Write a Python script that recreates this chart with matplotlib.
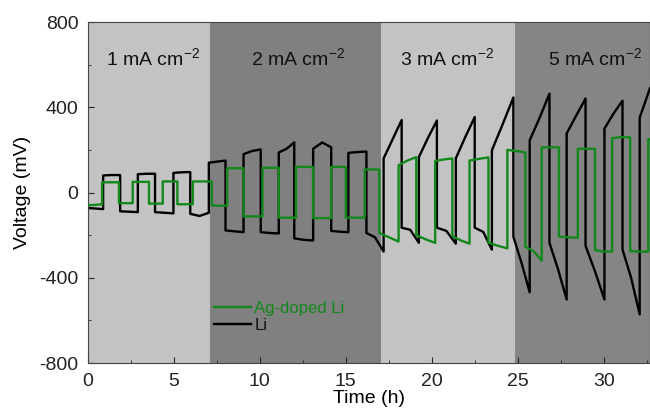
import numpy as np
import matplotlib
matplotlib.use("Agg")
import matplotlib.pyplot as plt
from matplotlib.ticker import MultipleLocator

plt.rcParams['font.family'] = ['Liberation Sans', 'DejaVu Sans']
plt.rcParams['mathtext.fontset'] = 'custom'
plt.rcParams['mathtext.rm'] = 'Liberation Sans'
plt.rcParams['mathtext.it'] = 'Liberation Sans'
plt.rcParams['axes.unicode_minus'] = False

# current-density bands (h)
band_edges = [0, 7.08, 17.07, 24.85, 32.7]
band_labels = ["1 mA cm$^{-2}$", "2 mA cm$^{-2}$", "3 mA cm$^{-2}$", "5 mA cm$^{-2}$"]
band_label_x = [3.8, 12.2, 20.9, 29.5]
band_colors = ["#c3c3c3", "#808080", "#c3c3c3", "#858585"]

# Li: switching times (h) and (start, mid, end) voltage of each half cycle (mV)
li_t = [0, 0.88, 1.87, 2.9, 3.9, 4.97, 5.95, 7.03, 8.0, 9.05, 10.05, 11.1, 12.0,
        13.1, 14.15, 15.15, 16.2, 17.2, 18.25, 19.25, 20.3, 21.4, 22.5, 23.5,
        24.75, 25.7, 26.85, 27.85, 28.95, 30.05, 31.1, 32.1, 32.7]
li_v = [(-73, -75, -78), (80, 82, 82), (-88, -90, -92), (86, 88, 88),
        (-92, -95, -98), (92, 95, 96), (-100, -110, -95), (140, 145, 150),
        (-178, -182, -186), (180, 195, 202), (-186, -190, -192), (188, 205, 235),
        (-215, -222, -225), (205, 235, 212), (-180, -184, -186), (186, 190, 192),
        (-190, -210, -277), (160, 250, 340), (-165, -175, -236), (166, 255, 338),
        (-165, -180, -240), (160, 260, 354), (-165, -185, -268), (198, 320, 446),
        (-207, -330, -468), (245, 350, 464), (-236, -360, -502), (277, 360, 441),
        (-250, -370, -502), (300, 370, 431), (-267, -400, -572), (352, 420, 490)]

# Ag-doped Li
ag_t = [0, 0.82, 1.8, 2.6, 3.55, 4.35, 5.2, 6.1, 7.2, 8.1, 9.05, 10.15, 11.1,
        12.1, 13.1, 14.15, 15.0, 16.1, 16.95, 18.07, 19.1, 20.2, 21.2, 22.2,
        23.3, 24.4, 25.45, 26.4, 27.4, 28.5, 29.5, 30.5, 31.55, 32.6, 32.7]
ag_v = [(-60, -58, -55), (48, 48, 48), (-50, -50, -50), (50, 50, 50),
        (-52, -52, -52), (52, 52, 52), (-55, -55, -55), (52, 52, 52),
        (-60, -62, -62), (114, 114, 114), (-112, -112, -112), (116, 116, 116),
        (-118, -118, -118), (120, 120, 120), (-120, -120, -120), (120, 120, 120),
        (-118, -118, -118), (108, 108, 108), (-190, -210, -230), (128, 150, 166),
        (-200, -220, -236), (148, 155, 160), (-205, -225, -240), (150, 158, 165),
        (-235, -250, -262), (200, 195, 188), (-255, -275, -320), (212, 212, 212),
        (-207, -210, -212), (205, 205, 205), (-270, -277, -277), (255, 260, 259),
        (-275, -277, -277), (250, 250, 250)]


def trace(edges, levels):
    xs, ys = [], []
    for i, (a, m, b) in enumerate(levels):
        t0, t1 = edges[i], edges[i + 1]
        xs += [t0, (t0 + t1) / 2, t1]
        ys += [a, m, b]
    return np.array(xs), np.array(ys)


fig = plt.figure(figsize=(6.5, 4.13), dpi=100)
ax = fig.add_axes([0.1354, 0.121, 0.8646, 0.8257])

for i in range(len(band_labels)):
    ax.axvspan(band_edges[i], band_edges[i + 1], color=band_colors[i], lw=0, zorder=0)
    ax.text(band_label_x[i], 632, band_labels[i], ha='center', va='center',
            fontsize=14, color='#111111')

x, y = trace(ag_t, ag_v)
ax.plot(x, y, color='#11891a', lw=1.7, label='Ag-doped Li', zorder=3)
x, y = trace(li_t, li_v)
ax.plot(x, y, color='black', lw=1.7, label='Li', zorder=2)

ax.set_xlim(0, 32.7)
ax.set_ylim(-800, 800)
ax.xaxis.set_major_locator(MultipleLocator(5))
ax.xaxis.set_minor_locator(MultipleLocator(2.5))
ax.yaxis.set_major_locator(MultipleLocator(400))
ax.yaxis.set_minor_locator(MultipleLocator(200))
ax.tick_params(which='both', direction='in', labelsize=14, colors='#222222')
ax.tick_params(which='major', length=4)
ax.tick_params(axis='y', which='major', pad=7)
ax.tick_params(axis='x', which='major', pad=7)
ax.tick_params(which='minor', length=2.5)
for s in ax.spines.values():
    s.set_color('#444444')

ax.set_xlabel("Time (h)", fontsize=14, labelpad=0)
ax.set_ylabel("Voltage (mV)", fontsize=14, labelpad=6)

leg = ax.legend(loc='lower left', bbox_to_anchor=(0.21, 0.065), frameon=False,
                fontsize=12, handlelength=2.2, handletextpad=0.2,
                borderpad=0, labelspacing=0.1)
for txt, line in zip(leg.get_texts(), leg.get_lines()):
    txt.set_color(line.get_color())
leg.get_texts()[1].set_color('#111111')

fig.savefig("out.png", dpi=100)
